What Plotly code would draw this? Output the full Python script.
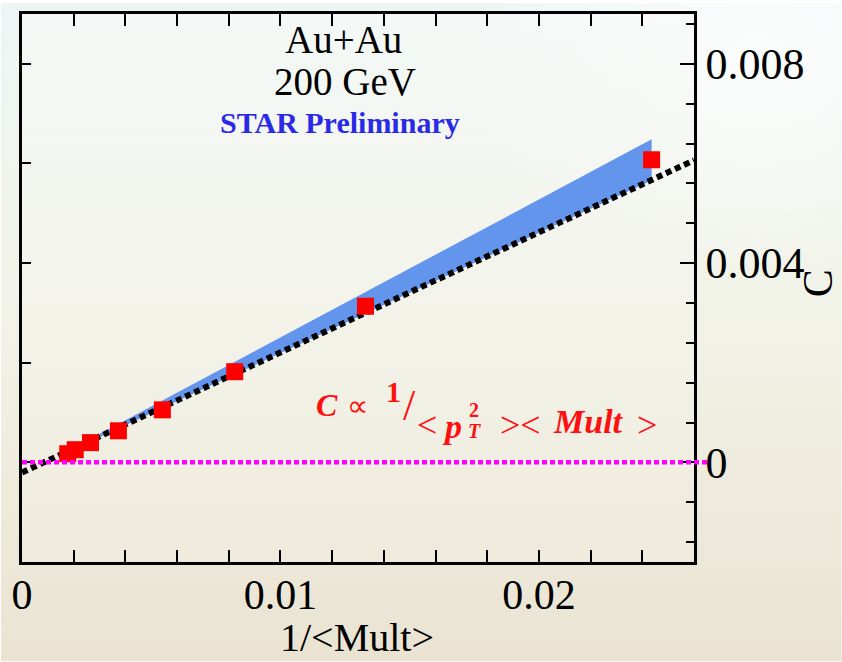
import base64
import plotly.graph_objects as go

# ---------------- data ----------------
inv_mult = [0.00177, 0.00206, 0.00265, 0.00373, 0.00543, 0.00823, 0.01329, 0.02436]
c_values = [0.000174, 0.000254, 0.000396, 0.000634, 0.001054, 0.00182, 0.003134, 0.006074]

fit_x = [0.0, 0.026]
fit_y = [-0.000204, 0.006064]

band_x = [0.0017, 0.02436]
band_lo = [0.00019, 0.00566]
band_hi = [0.00021, 0.006484]

x_tick_labels = ["0", "0.01", "0.02"]
y_tick_labels = ["0", "0.004", "0.008"]

W, H = 842, 662
L, R, T, B = 21, 148, 11, 100
PW, PH = W - L - R, H - T - B


def px(x):
    return (x - L) / PW


def py(y):
    return (H - B - y) / PH


SERIF = "Liberation Serif"

fig = go.Figure()

# uncertainty band
fig.add_trace(go.Scatter(x=band_x, y=band_lo, mode="lines", line=dict(width=0, color="#6495ed"),
                         hoverinfo="skip", showlegend=False))
fig.add_trace(go.Scatter(x=band_x, y=band_hi, mode="lines", line=dict(width=0, color="#6495ed"),
                         fill="tonexty", fillcolor="#6495ed", hoverinfo="skip", showlegend=False))
# fit line
fig.add_trace(go.Scatter(x=fit_x, y=fit_y, mode="lines",
                         line=dict(color="black", width=6, dash="6px,4px"),
                         showlegend=False))
# data points
fig.add_trace(go.Scatter(x=inv_mult, y=c_values, mode="markers",
                         marker=dict(symbol="square", size=17, color="#ff0000", line=dict(width=0)),
                         showlegend=False, cliponaxis=False))
# left mirror axis carrier
fig.add_trace(go.Scatter(x=[None], y=[None], yaxis="y2", showlegend=False, hoverinfo="skip"))

# zero reference line (extends slightly past the frame)
fig.add_shape(type="line", xref="paper", yref="y", x0=0, x1=px(709), y0=0, y1=0,
              line=dict(color="#ff00ff", width=4.5, dash="5px,3px"), layer="above")

# background gradient
svg = f'''<svg xmlns="http://www.w3.org/2000/svg" width="{W}" height="{H}" viewBox="0 0 {W} {H}">
<defs>
<linearGradient id="g" x1="0" y1="0" x2="0" y2="1">
<stop offset="0" stop-color="#edf6f5"/>
<stop offset="0.45" stop-color="#f2f3e8"/>
<stop offset="1" stop-color="#eae3d2"/>
</linearGradient>
<radialGradient id="r" cx="0.9" cy="0.08" r="0.35">
<stop offset="0" stop-color="#ffffff" stop-opacity="0.8"/>
<stop offset="1" stop-color="#ffffff" stop-opacity="0"/>
</radialGradient>
<linearGradient id="p" x1="0" y1="0" x2="0" y2="1">
<stop offset="0" stop-color="#f7faf8" stop-opacity="0.7"/>
<stop offset="1" stop-color="#f1eee2" stop-opacity="0.4"/>
</linearGradient>
</defs>
<rect width="{W}" height="{H}" fill="url(#g)"/>
<rect width="{W}" height="{H}" fill="url(#r)"/>
<rect x="{L}" y="{T}" width="{PW}" height="{PH}" fill="url(#p)"/>
</svg>'''
src = "data:image/svg+xml;base64," + base64.b64encode(svg.encode()).decode()
fig.add_layout_image(dict(source=src, xref="paper", yref="paper", x=px(0), y=py(0),
                          sizex=W / PW, sizey=H / PH, sizing="stretch",
                          xanchor="left", yanchor="top", layer="below"))

ann = []


def text(s, x, y, size, color="black", xanchor="center", angle=0):
    ann.append(dict(text=s, x=px(x), y=py(y), xref="paper", yref="paper", showarrow=False,
                    xanchor=xanchor, yanchor="middle", textangle=angle,
                    font=dict(family=SERIF, size=size, color=color)))


text("Au+Au", 343, 37, 39)
text("200 GeV", 344, 79, 39)
text("<b>STAR Preliminary</b>", 339, 120, 30, color="#2a2ae6")

red = "#ff1010"
text("<b><i>C</i></b>", 326, 404, 32, red)
text("∝", 357, 405, 30, red)
text("<b>1</b>", 393, 391, 30, red)
text("/", 409, 405, 44, red)
text("<", 427, 424, 36, red)
text("<b><i>p</i></b>", 452, 426, 34, red)
text("<b>2</b>", 474, 409, 20, red)
text("<b><i>T</i></b>", 474, 430, 20, red)
text("><", 520, 424, 36, red)
text("<b><i>Mult</i></b>", 588, 421, 34, red)
text(">", 647, 424, 36, red)

# axis titles
text("1/&lt;Mult&gt;", 356, 638, 40)
text("C", 818, 282, 42, angle=-90)

fig.update_layout(
    width=W, height=H,
    margin=dict(l=L, r=R, t=T, b=B, pad=0),
    paper_bgcolor="rgba(0,0,0,0)", plot_bgcolor="rgba(0,0,0,0)",
    annotations=ann,
    xaxis=dict(range=[0, 0.026], tickmode="array", tickvals=[0, 0.01, 0.02], ticktext=x_tick_labels,
               ticks="inside", ticklen=12, tickwidth=2, tickcolor="black",
               minor=dict(dtick=0.002, tick0=0, ticks="inside", ticklen=7, tickwidth=1.5, tickcolor="black"),
               showline=True, linewidth=2.5, linecolor="black", mirror="allticks",
               showgrid=False, zeroline=False,
               tickfont=dict(family=SERIF, size=42, color="black"), ticklabelstandoff=-6),
    yaxis=dict(range=[-0.002, 0.009], side="right", tickmode="array", tickvals=[0, 0.004, 0.008],
               ticktext=y_tick_labels,
               ticks="inside", ticklen=14, tickwidth=2, tickcolor="black",
               minor=dict(dtick=0.0008, tick0=0, ticks="inside", ticklen=8, tickwidth=1.5, tickcolor="black"),
               showline=True, linewidth=2.5, linecolor="black",
               showgrid=False, zeroline=False,
               tickfont=dict(family=SERIF, size=44, color="black"), ticklabelstandoff=0),
    yaxis2=dict(range=[-0.002, 0.009], overlaying="y", side="left", dtick=0.002, tick0=0,
                ticks="inside", ticklen=9, tickwidth=1.5, tickcolor="black",
                showticklabels=False, showline=True, linewidth=2.5, linecolor="black",
                showgrid=False, zeroline=False),
    showlegend=False,
)

fig.write_html("out.html")
